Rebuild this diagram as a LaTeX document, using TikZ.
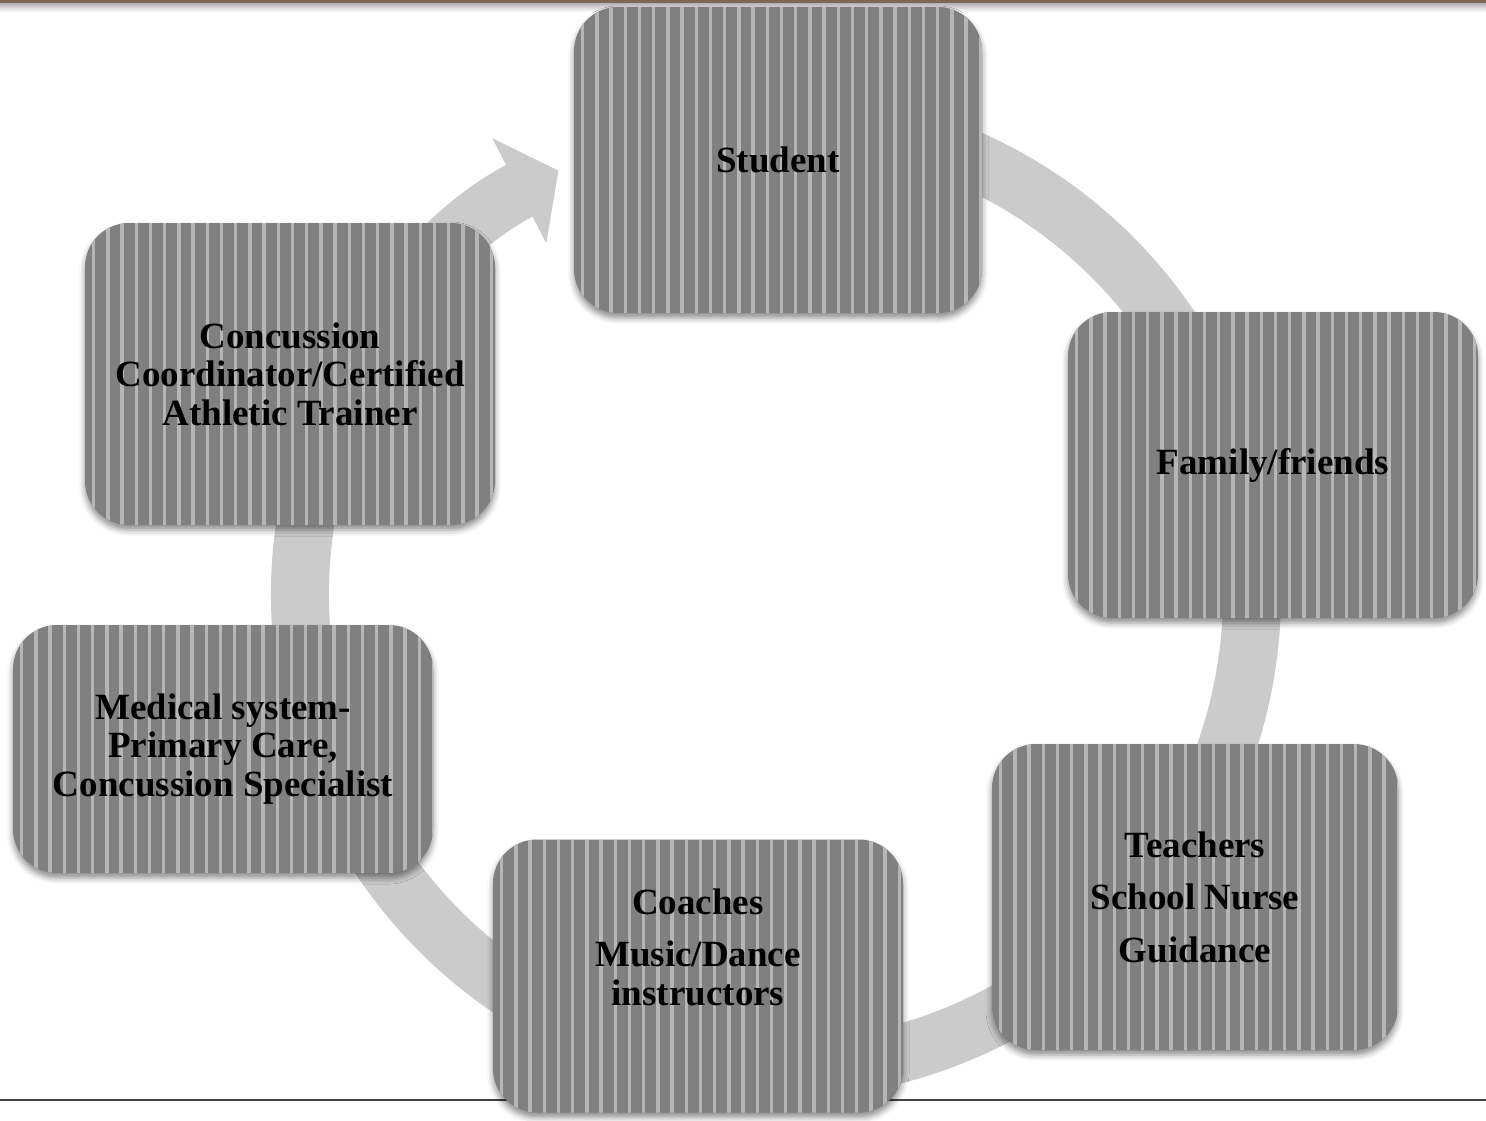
\documentclass[tikz,border=0pt]{standalone}
\usepackage{fontspec}
\setmainfont{Liberation Serif}
\usepackage{tikz}
\usetikzlibrary{calc, arrows.meta, shadows.blur}
\definecolor{boxgray}{RGB}{128,128,128}
\definecolor{stripegray}{RGB}{182,182,182}
\definecolor{ringgray}{RGB}{203,203,203}
\definecolor{topbrown}{RGB}{124,104,80}
\newcommand{\boxfont}{\bfseries\fontsize{18.5pt}{19.3pt}\selectfont}
\tikzset{
	cyclebox/.style={rounded corners=22pt, fill=boxgray, minimum width=205pt, minimum height=153pt,
		align=center, font=\boxfont, text=black,
		blur shadow={shadow xshift=0pt, shadow yshift=-2.5pt, shadow blur radius=3pt, shadow opacity=45},
		path picture={
			\foreach \k in {0,...,30}
				\fill[stripegray, sharp corners] ($(path picture bounding box.north west)+(7+\k*14.2,0)$) rectangle ++(3.3,330);
		}},
	boxtext/.style={align=center, font=\boxfont, text=black},
	ringarrow/.style={draw=ringgray, line width=29pt, -{Triangle[width=58pt, length=22pt]}}
}

\begin{document}
\begin{tikzpicture}[x=0.5pt, y=-0.5pt]
	\useasboundingbox (0,0) rectangle (1486,1120);

	% slide frame
	\fill[topbrown] (0,0) rectangle (1486,3);
	\shade[top color=black!30, bottom color=white] (0,3) rectangle (1486,12);
	\draw[black!75, line width=0.9pt] (0,1100) -- (1486,1100);

	% ring behind the boxes
	\coordinate (hub) at (776,594);
	\draw[ringarrow] (hub) ++(-80:476) arc[start angle=-80, end angle=242.8, radius=476];

	\node[cyclebox, minimum width=204pt] (student) at (778,160) {Student};
	\node[cyclebox] (family) at (1273,465) {Family/friends};
	\node[cyclebox, minimum width=203pt] (teachers) at (1195,897) {Teachers\\[7pt]School Nurse\\[7pt]Guidance};
	\node[cyclebox, minimum height=136.5pt,
		label={[boxtext, name=coachestext, yshift=14.5pt]center:{Coaches\\[7pt]Music/Dance\\instructors}}] (coaches) at (698,976) {};
	\node[cyclebox, minimum width=210pt, minimum height=124pt] (medical) at (223,749) {Medical system-\\Primary Care,\\Concussion Specialist};
	\node[cyclebox, minimum height=151pt] (coordinator) at (290,374) {Concussion\\Coordinator/Certified\\Athletic Trainer};
\end{tikzpicture}
\end{document}
